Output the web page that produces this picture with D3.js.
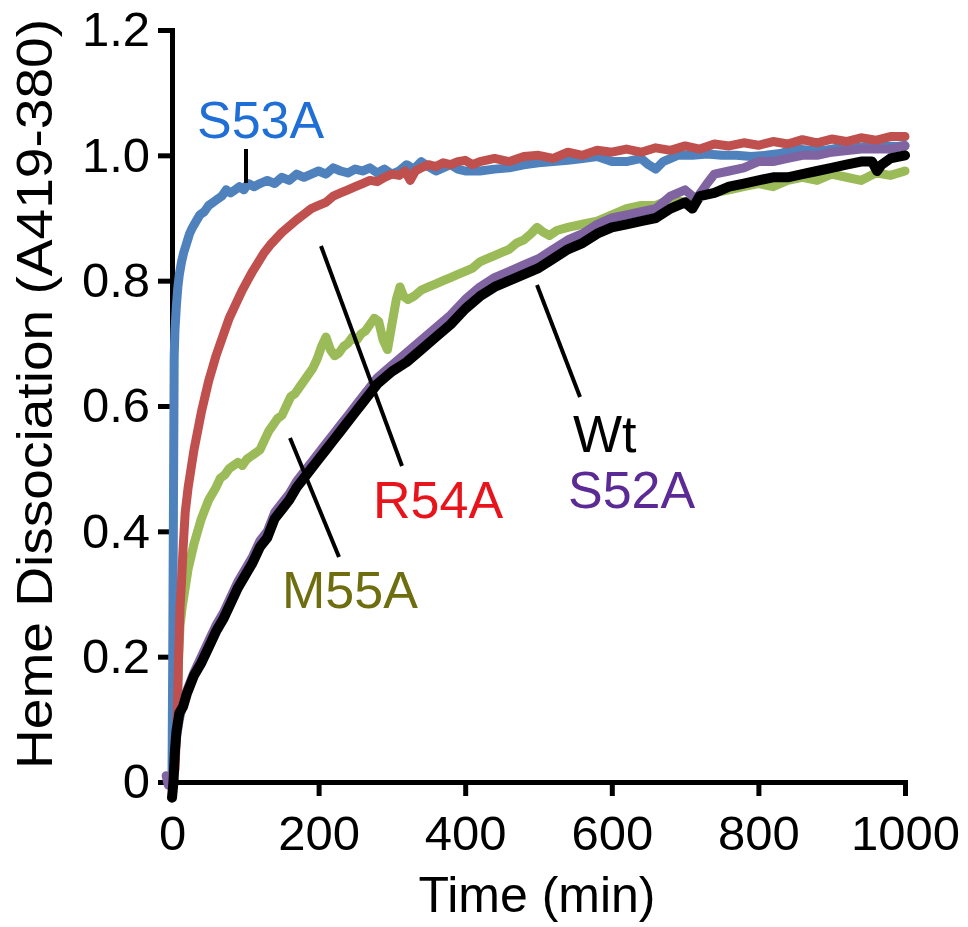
<!DOCTYPE html>
<html>
<head>
<meta charset="utf-8">
<script src="https://cdn.jsdelivr.net/npm/d3@7"></script>
<style>
  body { margin: 0; background: #fff; }
  text { font-family: "Liberation Sans", Arial, sans-serif; }
</style>
</head>
<body>
<div id="chart"></div>
<script>
// time (min) vs heme dissociation
const s53a = [[0,0],[1,0.2],[2,0.45],[3,0.68],[4,0.72],[6,0.76],[8,0.79],[10,0.81],[13,0.83],[16,0.845],[20,0.86],[24,0.875],[28,0.885],[33,0.895],[38,0.905],[44,0.91],[50,0.92],[56,0.925],[62,0.93],[68,0.935],[74,0.945],[80,0.94],[86,0.945],[92,0.95],[98,0.945],[104,0.955],[112,0.95],[120,0.955],[130,0.96],[140,0.955],[150,0.965],[160,0.96],[170,0.97],[180,0.965],[190,0.97],[200,0.975],[210,0.97],[220,0.98],[230,0.975],[240,0.972],[250,0.978],[260,0.975],[270,0.98],[280,0.972],[290,0.978],[300,0.97],[310,0.975],[320,0.985],[330,0.978],[340,0.99],[350,0.982],[360,0.975],[370,0.98],[380,0.985],[390,0.978],[400,0.975],[420,0.975],[440,0.978],[460,0.98],[480,0.985],[500,0.988],[520,0.99],[540,0.992],[560,0.995],[580,0.998],[600,0.99],[620,0.99],[640,0.995],[650,0.985],[660,0.978],[670,0.99],[690,1.0],[710,1.0],[730,1.002],[750,1.0],[770,1.0],[790,0.998],[810,1.0],[830,1.003],[850,1.01],[870,1.008],[890,1.008],[910,1.012],[930,1.012],[950,1.014],[970,1.015],[990,1.014],[1000,1.016]];

const r54a = [[0,0],[4,0.02],[7,0.1],[9,0.2],[11,0.28],[13,0.32],[15,0.37],[18,0.43],[22,0.47],[26,0.5],[30,0.53],[35,0.56],[40,0.59],[45,0.615],[50,0.64],[55,0.66],[60,0.68],[66,0.7],[72,0.72],[78,0.74],[84,0.755],[90,0.77],[96,0.785],[103,0.8],[110,0.815],[118,0.83],[126,0.845],[134,0.857],[142,0.867],[150,0.877],[160,0.887],[170,0.897],[180,0.906],[190,0.915],[200,0.92],[210,0.925],[220,0.935],[230,0.94],[240,0.945],[250,0.95],[260,0.955],[270,0.96],[280,0.958],[290,0.965],[300,0.97],[310,0.968],[318,0.975],[325,0.96],[332,0.975],[340,0.98],[350,0.985],[360,0.982],[370,0.988],[380,0.985],[390,0.99],[400,0.992],[410,0.985],[420,0.99],[440,0.995],[460,0.99],[480,0.998],[500,1.0],[520,0.995],[540,1.005],[560,1.0],[580,1.008],[600,1.005],[620,1.01],[640,1.005],[660,1.012],[680,1.008],[700,1.015],[720,1.01],[740,1.018],[760,1.015],[780,1.02],[800,1.016],[820,1.022],[840,1.018],[860,1.025],[880,1.02],[900,1.026],[920,1.022],[940,1.028],[960,1.024],[980,1.03],[1000,1.03]];

const m55a = [[0,0],[4,0.04],[7,0.12],[9,0.2],[11,0.25],[14,0.28],[18,0.31],[22,0.34],[26,0.36],[30,0.38],[35,0.4],[40,0.42],[45,0.435],[50,0.45],[55,0.46],[60,0.47],[66,0.485],[72,0.49],[78,0.5],[84,0.505],[90,0.51],[96,0.505],[102,0.515],[108,0.52],[114,0.525],[120,0.53],[126,0.545],[132,0.56],[138,0.57],[144,0.58],[150,0.585],[156,0.6],[162,0.615],[168,0.62],[174,0.63],[180,0.64],[186,0.65],[192,0.66],[198,0.675],[204,0.695],[210,0.71],[216,0.69],[222,0.68],[228,0.685],[234,0.695],[240,0.7],[246,0.71],[252,0.705],[258,0.715],[264,0.72],[270,0.73],[276,0.74],[282,0.735],[288,0.705],[294,0.69],[300,0.73],[306,0.77],[311,0.79],[316,0.775],[322,0.77],[330,0.775],[340,0.785],[350,0.79],[360,0.795],[370,0.8],[380,0.805],[390,0.81],[400,0.815],[410,0.82],[420,0.83],[430,0.835],[440,0.84],[450,0.845],[460,0.85],[470,0.86],[480,0.865],[490,0.875],[498,0.885],[506,0.878],[515,0.872],[525,0.88],[540,0.885],[560,0.89],[580,0.895],[600,0.905],[620,0.915],[640,0.92],[660,0.92],[680,0.93],[700,0.925],[720,0.935],[740,0.94],[760,0.945],[780,0.95],[800,0.955],[820,0.95],[840,0.96],[860,0.965],[880,0.96],[900,0.97],[920,0.965],[940,0.96],[960,0.972],[980,0.968],[1000,0.975]];

const s52a = [[-8,0.01],[-5,-0.005],[0,0],[3,0.03],[6,0.07],[10,0.1],[15,0.125],[20,0.145],[30,0.175],[40,0.2],[50,0.225],[60,0.25],[70,0.27],[80,0.295],[90,0.32],[100,0.34],[110,0.36],[120,0.385],[130,0.4],[140,0.43],[150,0.445],[160,0.46],[170,0.48],[180,0.495],[190,0.51],[200,0.525],[210,0.54],[220,0.555],[230,0.57],[240,0.585],[250,0.6],[260,0.615],[270,0.63],[280,0.645],[290,0.655],[300,0.665],[320,0.685],[340,0.705],[360,0.725],[380,0.745],[400,0.77],[420,0.79],[440,0.805],[460,0.815],[480,0.825],[500,0.835],[520,0.85],[540,0.865],[560,0.875],[580,0.89],[600,0.9],[620,0.905],[640,0.91],[660,0.915],[680,0.935],[700,0.945],[715,0.93],[730,0.955],[740,0.97],[760,0.975],[780,0.98],[800,0.99],[820,0.99],[840,0.995],[860,1.0],[880,1.0],[900,1.005],[940,1.01],[980,1.01],[1000,1.015]];

const wt = [[0,-0.025],[2,0],[4,0.05],[6,0.08],[10,0.11],[15,0.12],[20,0.14],[30,0.17],[40,0.19],[50,0.215],[60,0.24],[70,0.26],[80,0.285],[90,0.31],[100,0.33],[110,0.35],[120,0.375],[130,0.39],[140,0.42],[150,0.435],[160,0.45],[170,0.47],[180,0.485],[190,0.5],[200,0.515],[210,0.53],[220,0.545],[230,0.56],[240,0.575],[250,0.59],[260,0.605],[270,0.62],[280,0.635],[290,0.645],[300,0.655],[320,0.67],[340,0.69],[360,0.71],[380,0.73],[400,0.755],[420,0.775],[440,0.79],[460,0.8],[480,0.81],[500,0.82],[520,0.835],[540,0.85],[560,0.86],[580,0.875],[600,0.885],[620,0.89],[640,0.895],[660,0.9],[680,0.915],[700,0.925],[710,0.915],[720,0.935],[740,0.94],[760,0.95],[780,0.955],[800,0.96],[820,0.965],[840,0.965],[860,0.97],[880,0.975],[900,0.98],[920,0.985],[940,0.99],[955,0.99],[962,0.975],[968,0.985],[980,0.995],[1000,1.0]];

const xTicks = [0, 200, 400, 600, 800, 1000];
const yTicks = [0, 0.2, 0.4, 0.6, 0.8, 1.0, 1.2];

const width = 968;
const height = 927;

const svg = d3.select('#chart')
  .append('svg')
  .attr('width', width)
  .attr('height', height);

const x = d3.scaleLinear().domain([0, 1000]).range([172, 905]);
const y = d3.scaleLinear().domain([0, 1.2]).range([782, 30]);

// axes
const xAxis = svg.append('g')
  .attr('transform', `translate(0, ${y(0)})`)
  .call(d3.axisBottom(x).tickValues(xTicks).tickSize(14).tickPadding(19)
    .tickFormat(d3.format('d')));

const yAxis = svg.append('g')
  .attr('transform', `translate(${x(0)}, 0)`)
  .call(d3.axisLeft(y).tickValues(yTicks).tickSize(14).tickPadding(8)
    .tickFormat(d => (d === 0 ? '0' : d3.format('.1f')(d))));

[xAxis, yAxis].forEach(g => {
  g.selectAll('path, line').attr('stroke', '#000').attr('stroke-width', 5);
  g.selectAll('text').attr('fill', '#000').style('font-size', '49px');
});

svg.append('text')
  .attr('x', 537)
  .attr('y', 912)
  .attr('text-anchor', 'middle')
  .style('font-size', '50px')
  .text('Time (min)');

svg.append('text')
  .attr('transform', 'translate(52, 394) rotate(-90)')
  .attr('text-anchor', 'middle')
  .attr('textLength', 750)
  .attr('lengthAdjust', 'spacingAndGlyphs')
  .style('font-size', '50px')
  .text('Heme Dissociation (A419-380)');

// traces
const line = d3.line()
  .x(d => x(d[0]))
  .y(d => y(d[1]));

const traces = [
  { data: m55a, color: '#9bbb59', w: 9 },
  { data: s53a, color: '#4f81bd', w: 9 },
  { data: r54a, color: '#c0504d', w: 9 },
  { data: s52a, color: '#8064a2', w: 9 },
  { data: wt, color: '#000000', w: 10 },
];

svg.selectAll('.trace')
  .data(traces)
  .enter()
  .append('path')
  .attr('class', 'trace')
  .attr('d', d => line(d.data))
  .attr('fill', 'none')
  .attr('stroke', d => d.color)
  .attr('stroke-width', d => d.w)
  .attr('stroke-linejoin', 'round')
  .attr('stroke-linecap', 'round');

// labels and leader lines
const labels = [
  { text: 'S53A', x: 197, y: 138, color: '#1f6fd6' },
  { text: 'R54A', x: 373, y: 518, color: '#e8141b' },
  { text: 'M55A', x: 282, y: 608, color: '#6e6e10' },
  { text: 'Wt', x: 573, y: 452, color: '#000000' },
  { text: 'S52A', x: 568, y: 508, color: '#5b2a95' },
];

const leaders = [
  [[246, 149], [246, 183]],
  [[321, 246], [402, 466]],
  [[290, 438], [339, 557]],
  [[537, 285], [580, 397]],
];

svg.selectAll('.leader')
  .data(leaders)
  .enter()
  .append('line')
  .attr('class', 'leader')
  .attr('x1', d => d[0][0])
  .attr('y1', d => d[0][1])
  .attr('x2', d => d[1][0])
  .attr('y2', d => d[1][1])
  .attr('stroke', '#000')
  .attr('stroke-width', 4);

svg.selectAll('.label')
  .data(labels)
  .enter()
  .append('text')
  .attr('class', 'label')
  .attr('x', d => d.x)
  .attr('y', d => d.y)
  .attr('fill', d => d.color)
  .style('font-size', '52px')
  .text(d => d.text);
</script>
</body>
</html>
